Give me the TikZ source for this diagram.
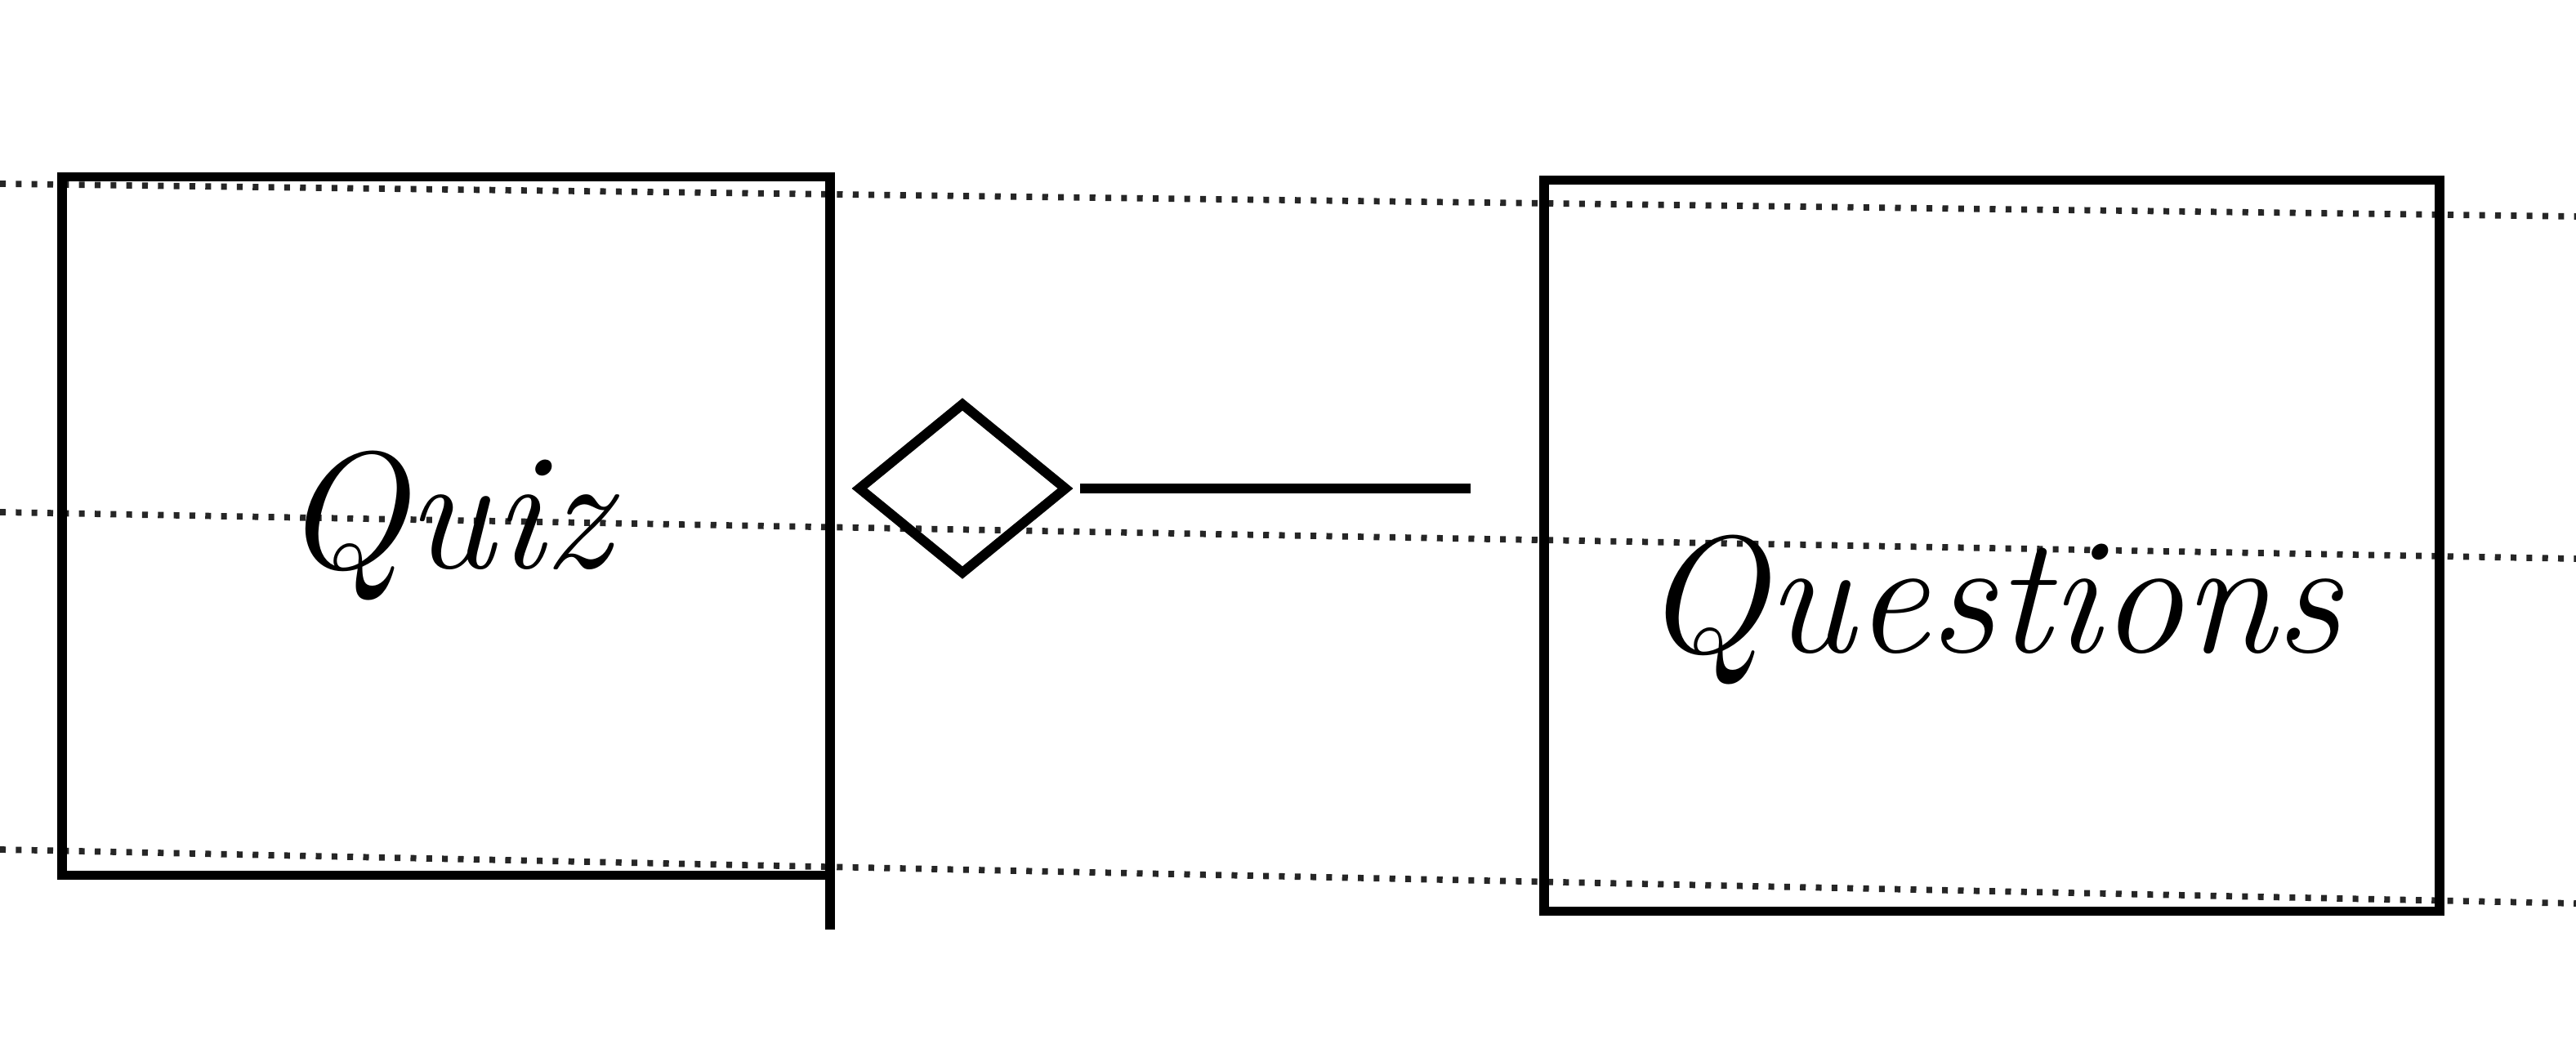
\documentclass[tikz,border=0pt]{standalone}
\usetikzlibrary{shapes.geometric,positioning}
\tikzset{
  entity/.style={draw=black,line width=3.4pt,minimum width=#1,align=center,
    font=\fontsize{58}{64}\selectfont\itshape,outer sep=0pt},
  agg/.style={diamond,draw=black,line width=3.4pt,minimum width=2.57cm,
    minimum height=2.11cm,inner sep=0pt},
  ruling/.style={line width=2.2pt,dash pattern=on 2pt off 3.5pt,black!85},
  link/.style={line width=3.4pt,draw=black},
}
\begin{document}
\begin{tikzpicture}
  \useasboundingbox[fill=white] (0,0) rectangle (31.53,12.93);
  % ruled paper
  \draw[ruling] (0,10.68) -- (31.53,10.28);
  \draw[ruling] (0,6.66) -- (31.53,6.09);
  \draw[ruling] (0,2.53) -- (31.53,1.87);
  % classes
  \node[entity=9.4cm,minimum height=8.55cm] (quiz) at (5.46,6.49) {Quiz};
  \node[entity=10.96cm,minimum height=8.95cm,text height=3cm] (questions) at (24.38,6.25) {Questions};
  \draw[link] ([yshift=0.5cm]quiz.south east) -- ([yshift=-0.66cm]quiz.south east);
  % aggregation
  \node[agg] (diam) at (11.78,6.95) {};
  \draw[link,shorten <=0.1cm,shorten >=0.9cm] (diam.east) -- (diam.east -| questions.west);
\end{tikzpicture}
\end{document}
